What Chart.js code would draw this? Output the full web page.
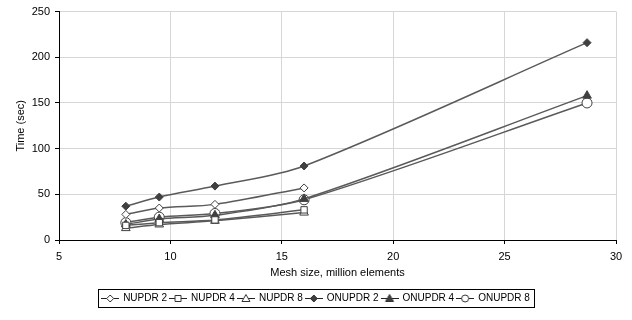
<!DOCTYPE html>
<html>
<head>
<meta charset="utf-8">
<script src="https://cdn.jsdelivr.net/npm/chart.js@4"></script>
<style>
  html, body { margin: 0; padding: 0; background: #fff; }
  #wrap { width: 632px; height: 320px; }
</style>
</head>
<body>
<div id="wrap"><canvas id="chart" width="632" height="320"></canvas></div>
<script>
// ===== data =====
const meshSizes = [8, 9.5, 12, 16, 28.7];
const seriesNames = ["NUPDR 2", "NUPDR 4", "NUPDR 8", "ONUPDR 2", "ONUPDR 4", "ONUPDR 8"];
const nupdr2  = [28, 35, 39, 57];
const nupdr4  = [16, 19, 22, 33];
const nupdr8  = [13, 17, 21, 30];
const onupdr2 = [37, 47, 59, 81, 216];
const onupdr4 = [17, 23, 27, 45, 158];
const onupdr8 = [19, 25, 29, 44, 150];
const xTicks = [5, 10, 15, 20, 25, 30];
const yTicks = [0, 50, 100, 150, 200, 250];

const LINE = "#5a5a5a", MARK = "#404040";
const FONT = "'Liberation Sans', Arial, sans-serif";

const styles = [
  { shape: "rectRot",  fill: "#fff", r: 4 },
  { shape: "rect",     fill: "#fff", r: 4.5 },
  { shape: "triangle", fill: "#fff", r: 5 },
  { shape: "rectRot",  fill: MARK,   r: 4 },
  { shape: "triangle", fill: MARK,   r: 5 },
  { shape: "circle",   fill: "#fff", r: 5 }
];
const values = [nupdr2, nupdr4, nupdr8, onupdr2, onupdr4, onupdr8];

function toPoints(vals) {
  return vals.map((v, i) => ({ x: meshSizes[i], y: v }));
}

// small legend glyph: line with marker in the middle
function legendGlyph(st) {
  const c = document.createElement("canvas");
  c.width = 18; c.height = 12;
  const g = c.getContext("2d");
  g.strokeStyle = "#222"; g.lineWidth = 1;
  g.beginPath(); g.moveTo(0, 6.5); g.lineTo(18, 6.5); g.stroke();
  g.fillStyle = st.fill; g.strokeStyle = "#333"; g.lineWidth = 1;
  const cx = 9, cy = 6.5, r = 3.5;
  g.beginPath();
  if (st.shape === "rectRot") {
    g.moveTo(cx, cy - r); g.lineTo(cx + r, cy); g.lineTo(cx, cy + r); g.lineTo(cx - r, cy); g.closePath();
  } else if (st.shape === "rect") {
    g.rect(cx - 3, cy - 3, 6, 6);
  } else if (st.shape === "triangle") {
    g.moveTo(cx, cy - 4); g.lineTo(cx + 4, cy + 3); g.lineTo(cx - 4, cy + 3); g.closePath();
  } else {
    g.arc(cx, cy, 3.5, 0, Math.PI * 2);
  }
  g.fill(); g.stroke();
  return c;
}

const datasets = seriesNames.map((name, i) => ({
  label: name,
  data: toPoints(values[i]),
  borderColor: LINE,
  borderWidth: 1.5,
  backgroundColor: styles[i].fill,
  pointStyle: styles[i].shape,
  pointRadius: styles[i].r,
  pointBackgroundColor: styles[i].fill,
  pointBorderColor: MARK,
  pointBorderWidth: 1,
  tension: 0.3,
  legendImg: legendGlyph(styles[i])
}));

// ===== legend border + nudge legend a bit to the right =====
const legendBox = {
  id: "legendBox",
  afterLayout(chart) {
    chart.legend.left += 8;
    chart.legend.right += 8;
  },
  afterDraw(chart) {
    const boxes = chart.legend.legendHitBoxes;
    if (!boxes || !boxes.length) return;
    const l = Math.min(...boxes.map(b => b.left)) - 4;
    const r = Math.max(...boxes.map(b => b.left + b.width)) + 4;
    const t = Math.min(...boxes.map(b => b.top)) - 4;
    const btm = Math.max(...boxes.map(b => b.top + b.height)) + 4;
    const ctx = chart.ctx;
    ctx.save();
    ctx.strokeStyle = "#000"; ctx.lineWidth = 1;
    ctx.strokeRect(Math.round(l) + 0.5, Math.round(t) + 0.5, Math.round(r - l), Math.round(btm - t));
    ctx.restore();
  }
};

new Chart(document.getElementById("chart"), {
  type: "line",
  data: { datasets },
  plugins: [legendBox],
  options: {
    responsive: false,
    animation: false,
    layout: { padding: { top: 11, right: 16, left: 0, bottom: 7 } },
    plugins: {
      tooltip: { enabled: false },
      legend: {
        position: "bottom",
        labels: {
          font: { family: FONT, size: 10 },
          color: "#000",
          usePointStyle: true,
          pointStyleWidth: 16,
          padding: 3,
          boxHeight: 12,
          generateLabels(chart) {
            return chart.data.datasets.map((ds, i) => ({
              text: ds.label,
              pointStyle: ds.legendImg,
              datasetIndex: i,
              fontColor: "#000",
              lineWidth: 0
            }));
          }
        }
      }
    },
    scales: {
      x: {
        type: "linear",
        min: 5, max: 30,
        afterBuildTicks(axis) { axis.ticks = xTicks.map(v => ({ value: v })); },
        afterFit(axis) { axis.height = 50; },
        grid: { color: "#d6d6d6", tickColor: "#000", tickLength: 4 },
        border: { color: "#000", width: 1 },
        ticks: { font: { family: FONT, size: 11 }, color: "#000", padding: 6, maxRotation: 0 },
        title: { display: true, text: "Mesh size, million elements", font: { family: FONT, size: 11 }, color: "#000", padding: { top: 3, bottom: 10 } }
      },
      y: {
        min: 0, max: 250,
        afterBuildTicks(axis) { axis.ticks = yTicks.map(v => ({ value: v })); },
        afterFit(axis) { axis.width = 59; },
        grid: { color: "#d6d6d6", tickColor: "#000", tickLength: 4 },
        border: { color: "#000", width: 1 },
        ticks: { font: { family: FONT, size: 11 }, color: "#000", padding: 5 },
        title: { display: true, text: "Time (sec)", font: { family: FONT, size: 11 }, color: "#000", padding: { top: 14, bottom: 0 } }
      }
    }
  }
});
</script>
</body>
</html>
